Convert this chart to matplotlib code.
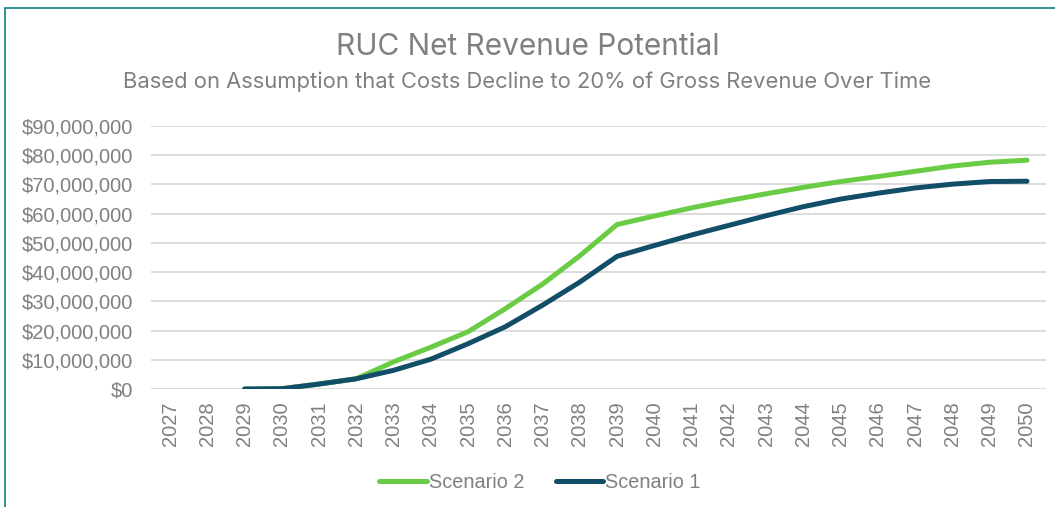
import numpy as np
import matplotlib.pyplot as plt
from matplotlib.patches import Rectangle
from matplotlib.ticker import FuncFormatter

years = [str(y) for y in range(2027, 2051)]
# values in $ millions, None where there is no data
scenario_2 = [None, None, 0.0, 0.1, 1.7, 3.5, 9.3, 14.3, 19.6, 27.5, 35.9, 45.6,
              56.3, 59.2, 62.0, 64.5, 66.8, 69.0, 71.0, 72.7, 74.5, 76.3, 77.6, 78.3]
scenario_1 = [None, None, 0.0, 0.1, 1.7, 3.5, 6.4, 10.2, 15.5, 21.3, 28.7, 36.6,
              45.4, 49.1, 52.7, 56.0, 59.3, 62.4, 65.0, 67.0, 68.8, 70.1, 71.0, 71.1]

green = '#6acb45'
navy = '#134e69'
grey = '#808080'

plt.rcParams['font.family'] = ['Liberation Sans', 'DejaVu Sans']

fig = plt.figure(figsize=(10.55, 5.07), dpi=100)
ax = fig.add_axes([151.4 / 1055, 1 - 389 / 507, (1045.6 - 151.4) / 1055, (389 - 126) / 507])

x = np.arange(len(years))
s2 = np.array([np.nan if v is None else v * 1e6 for v in scenario_2])
s1 = np.array([np.nan if v is None else v * 1e6 for v in scenario_1])

ax.plot(x, s2, color=green, lw=3.6, solid_capstyle='round', solid_joinstyle='round', label='Scenario 2')
ax.plot(x, s1, color=navy, lw=3.6, solid_capstyle='round', solid_joinstyle='round', label='Scenario 1')

ax.set_xlim(-0.5, len(years) - 0.5)
ax.set_ylim(0, 90e6)
ax.set_yticks(np.arange(0, 90e6 + 1, 10e6))
ax.yaxis.set_major_formatter(FuncFormatter(lambda v, p: '${:,.0f}'.format(v)))
ax.set_xticks(x)
ax.set_xticklabels(years, rotation=90)
ax.grid(axis='y', color='#d9d9d9', lw=1.3)
ax.set_axisbelow(True)
for s in ax.spines.values():
    s.set_visible(False)
ax.tick_params(axis='both', length=0, colors=grey, labelsize=14.5)
ax.tick_params(axis='y', pad=13)
ax.tick_params(axis='x', pad=9)

fig.text(0.5, 1 - 47 / 507, 'RUC Net Revenue Potential', ha='center', va='center',
         fontsize=21.5, color=grey, family=['Inter', 'DejaVu Sans'])
fig.text(0.5, 1 - 82 / 507, 'Based on Assumption that Costs Decline to 20% of Gross Revenue Over Time',
         ha='center', va='center', fontsize=15.8, color=grey, family=['Inter', 'DejaVu Sans'])

leg = fig.legend(loc='center', bbox_to_anchor=(540 / 1055, 1 - 482 / 507), ncol=2, frameon=False,
                 fontsize=14.3, handlelength=2.4, handletextpad=0.1, columnspacing=1.6)
for t in leg.get_texts():
    t.set_color(grey)

fig.patches.append(Rectangle((5 / 1055, -0.05), 1.2, 1 - 7.5 / 507 + 0.05, transform=fig.transFigure,
                             fill=False, edgecolor='#1e8a8c', lw=1.3))

fig.savefig('out.png', dpi=100)
